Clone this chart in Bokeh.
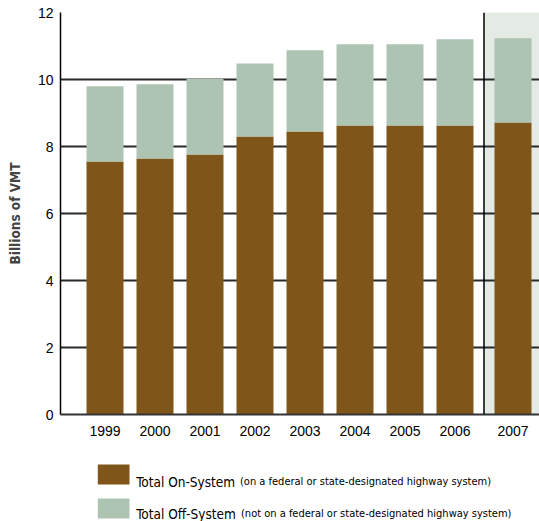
from bokeh.plotting import figure
from bokeh.layouts import column
from bokeh.models import ColumnDataSource, FixedTicker, Span, BoxAnnotation, Range1d
from bokeh.core.properties import value
from bokeh.embed import file_html
from bokeh.resources import INLINE

# Vehicle miles travelled, billions
years = ["1999", "2000", "2001", "2002", "2003", "2004", "2005", "2006", "2007"]
on_system = [7.55, 7.64, 7.76, 8.30, 8.45, 8.63, 8.63, 8.63, 8.72]
off_system = [2.25, 2.22, 2.26, 2.18, 2.42, 2.42, 2.42, 2.57, 2.51]
y_ticks = [0, 2, 4, 6, 8, 10, 12]

BROWN = "#7F5519"
GREEN = "#AEC4B3"
SHADE = "#E4EBE5"
TICK_FONT = "Liberation Sans"
NARROW = "'DejaVu Sans Condensed', 'Liberation Sans'"
LEFT = 60       # width of the left border, shared by both panels
CHART_H = 444   # height of the chart panel
LEGEND_H = 77   # height of the legend panel below it

# the latest year is set apart from the rest by a small gap
GAP = 0.16
xpos = [int(y) + (GAP if y == years[-1] else 0.0) for y in years]
divider = (xpos[-2] + xpos[-1]) / 2

src = ColumnDataSource(dict(x=xpos, on=on_system, off=off_system))

p = figure(width=539, height=CHART_H, output_backend="svg", toolbar_location=None,
           x_range=Range1d(1998.11, 2007.69), y_range=Range1d(0, 12),
           min_border_left=LEFT, min_border_right=0, min_border_top=12,
           min_border_bottom=CHART_H - 414)
p.outline_line_color = None
p.background_fill_color = "white"
p.border_fill_color = "white"

# shaded panel behind the latest year
shade = BoxAnnotation(left=divider, fill_color=SHADE, fill_alpha=1.0, line_color=None)
shade.level = "image"
p.add_layout(shade)

p.vbar_stack(["on", "off"], x="x", width=0.74, color=[BROWN, GREEN],
             line_color=None, source=src)

p.add_layout(Span(location=divider, dimension="height", line_color="black",
                  line_width=1.5))

# axes
p.yaxis.ticker = FixedTicker(ticks=y_ticks)
p.yaxis.axis_label = "Billions of VMT"
p.yaxis.axis_label_text_font = NARROW
p.yaxis.axis_label_text_font_style = "bold"
p.yaxis.axis_label_text_font_size = "13.5px"
p.yaxis.axis_label_standoff = 12
p.yaxis.major_label_text_font = TICK_FONT
p.yaxis.major_label_text_font_size = "14px"
p.yaxis.major_label_text_color = "black"
p.yaxis.major_label_standoff = 7
p.yaxis.major_tick_out = 0
p.yaxis.major_tick_in = 0
p.yaxis.minor_tick_line_color = None
p.yaxis.axis_line_color = "black"
p.yaxis.axis_line_width = 1.5

p.xaxis.ticker = FixedTicker(ticks=xpos)
p.xaxis.major_label_overrides = {x: y for x, y in zip(xpos, years)}
p.xaxis.major_label_text_font = TICK_FONT
p.xaxis.major_label_text_font_size = "14px"
p.xaxis.major_label_text_color = "black"
p.xaxis.major_label_standoff = 11
p.xaxis.major_tick_out = 0
p.xaxis.major_tick_in = 0
p.xaxis.minor_tick_line_color = None
p.xaxis.axis_line_color = "#333333"
p.xaxis.axis_line_width = 2

p.xgrid.grid_line_color = None
p.ygrid.ticker = FixedTicker(ticks=y_ticks)
p.ygrid.grid_line_color = "#2a2a2a"
p.ygrid.grid_line_width = 2

# legend panel drawn underneath; its frame lines up with the chart frame,
# so the x range starts at the left border and y counts page pixels downward
leg = figure(width=539, height=LEGEND_H, output_backend="svg", toolbar_location=None,
             x_range=Range1d(LEFT, 539), y_range=Range1d(CHART_H + LEGEND_H, CHART_H),
             min_border_left=LEFT, min_border_right=0, min_border_top=0,
             min_border_bottom=0, outline_line_color=None)
leg.axis.visible = False
leg.grid.visible = False
leg.background_fill_color = "white"
leg.border_fill_color = "white"

names = ["Total On-System", "Total Off-System"]
notes = ["(on a federal or state-designated highway system)",
         "(not on a federal or state-designated highway system)"]
colors = [BROWN, GREEN]
rows_top = [464, 498]
baselines = [481, 513]
note_x = [239.5, 240.5]

leg.quad(left=97.3, right=129, top=rows_top, bottom=[t + 20 for t in rows_top],
         color=colors, line_color=None)
leg.text(x=135.7, y=baselines, text=names, text_font=value(NARROW),
         text_font_size="13.5px", text_baseline="alphabetic", text_color="black")
leg.text(x=note_x, y=baselines, text=notes, text_font=value(NARROW),
         text_font_size="11px", text_baseline="alphabetic", text_color="black")

layout = column(p, leg, spacing=0)

open("out.html", "w").write(file_html(layout, INLINE))
